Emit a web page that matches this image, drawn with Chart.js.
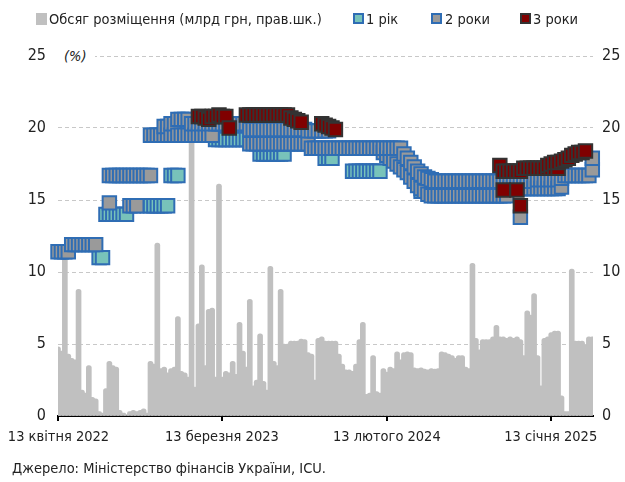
<!DOCTYPE html>
<html><head><meta charset="utf-8">
<script src="https://cdn.jsdelivr.net/npm/chart.js@4.4.1/dist/chart.umd.min.js"></script>
<style>
html,body{margin:0;padding:0;background:#fff;}
#wrap{position:relative;width:625px;height:482px;overflow:hidden;color:#222;}
canvas{position:absolute;left:0;top:0;}
.t{position:absolute;line-height:18px;white-space:nowrap;}
.bx{position:absolute;top:13px;width:11px;height:11px;box-sizing:border-box;}
</style></head><body>
<div id="wrap">
<canvas id="c" width="625" height="482"></canvas>
<div class="bx" style="left:36px;background:#c0c0c0;height:12px;"></div>
<div class="t" id="lg0" style="left:49px;top:10px;">Обсяг розміщення (млрд грн, прав.шк.)</div>
<div class="bx" style="left:353px;background:#78c3ba;border:2px solid #2f6db4;"></div>
<div class="t" style="left:366px;top:10px;">1 рік</div>
<div class="bx" style="left:431px;background:#9a9a9a;border:2px solid #2f6db4;"></div>
<div class="t" style="left:445px;top:10px;">2 роки</div>
<div class="bx" style="left:520px;background:#800000;border:2px solid #333;"></div>
<div class="t" style="left:533px;top:10px;">3 роки</div>
<div class="t" style="left:58px;top:47px;padding:0 8px 0 6px;background:#fff;font-style:italic;">(%)</div>
<div class="t" style="left:12px;top:459px;">Джерело: Міністерство фінансів України, ICU.</div>
</div>
<script>
// week 0 = auction of 12 April 2022; x values below are weeks since then
const firstAuction = '2022-04-12';
const tickDates = ['2022-04-13','2023-03-13','2024-02-13','2025-01-13'];
const tickLabels = ['13 квітня 2022','13 березня 2023','13 лютого 2024','13 січня 2025'];

// weekly placement volume, UAH bn (right axis), weeks 0..156
const volume = [
4.8,4.5,11.0,4.3,4.0,3.9,8.8,1.8,1.6,3.5,
1.3,1.2,0.3,0.2,1.9,3.8,3.5,3.4,0.4,0.2,
0.1,0.3,0.4,0.3,0.4,0.5,0.2,3.8,3.6,12.0,
3.3,3.4,3.0,3.3,3.4,6.9,3.1,3.0,2.7,19.5,
2.0,6.4,10.5,3.5,7.4,7.5,2.7,16.1,2.7,3.1,
3.0,3.8,2.9,6.5,4.5,3.4,8.1,2.1,2.5,5.7,
2.4,1.8,10.4,3.8,3.5,8.8,5.0,5.0,5.2,5.2,
5.2,5.35,5.3,4.4,4.3,2.5,5.4,5.5,5.2,5.2,
5.2,5.2,4.3,3.6,3.2,3.2,3.1,3.6,5.3,6.5,
1.5,1.6,4.2,1.7,1.6,3.3,3.05,3.4,3.3,4.45,
3.9,4.4,4.45,4.4,3.35,3.3,3.35,3.25,3.2,3.3,
3.25,3.3,4.45,4.4,4.3,4.2,4.0,4.2,4.2,3.4,
3.3,10.6,5.4,4.6,5.3,5.3,5.3,5.5,6.3,5.5,
5.5,5.4,5.5,5.4,5.5,5.3,4.2,7.3,7.0,8.5,
4.2,2.1,5.4,5.5,5.8,5.9,5.9,1.4,0.3,0.3,
10.2,5.2,5.2,5.2,4.9,5.5,5.5
];

// [week, yield %]
const oneYear = [
[12,11.0],[13,11.0],
[14,14.0],[15,14.0],[16,14.0],[17,14.0],[18,14.0],[19,14.0],[20,14.0],
[26,14.6],[27,14.6],[28,14.6],[29,14.6],[30,14.6],[31,14.6],[32,14.6],
[33,16.7],[34,16.7],[35,16.7],
[46,19.2],[47,19.2],[48,19.2],[49,19.2],[50,19.2],[51,19.2],[52,19.2],[53,19.2],[54,19.2],[55,19.2],
[59,18.2],[60,18.2],[61,18.2],[62,18.2],[63,18.2],[64,18.2],[65,18.2],[66,18.2],
[78,17.9],[79,17.9],[80,17.9],
[86,17.0],[87,17.0],[88,17.0],[89,17.0],[90,17.0],[91,17.0],[92,17.0],[93,17.0],[94,17.0],
[106,15.6],[107,15.6],[108,15.6],[109,15.6],[110,15.6],[111,15.6]
];

const twoYears = [
[0,11.4],[1,11.4],[2,11.4],[3,11.4],
[4,11.9],[5,11.9],[6,11.9],[7,11.9],[8,11.9],[9,11.9],[10,11.9],[11,11.9],
[15,14.8],[15,16.7],[16,16.7],[17,16.7],[18,16.7],[19,16.7],[20,16.7],
[21,14.6],[21,16.7],[22,14.6],[22,16.7],[23,14.6],[23,16.7],
[24,16.7],[25,16.7],[26,16.7],[27,16.7],
[27,19.5],[28,19.5],[29,19.5],[30,19.5],
[31,19.5],[31,20.1],[32,19.5],[32,20.1],
[33,19.5],[33,20.3],[34,19.5],[34,20.3],
[35,19.5],[35,20.6],[36,19.5],[36,20.6],[37,19.5],[37,20.6],[38,19.5],[38,20.6],
[39,19.5],[39,20.3],[40,19.5],[40,20.3],[41,19.5],[41,20.3],[42,19.5],[42,20.3],
[43,19.5],[43,20.3],[44,19.5],[44,20.3],[45,19.5],[45,20.3],
[46,20.3],[47,20.3],[48,20.3],[49,20.3],[50,20.3],[51,20.3],[52,20.3],[53,20.3],[54,20.3],[55,20.3],
[56,18.9],[56,19.9],[57,18.9],[57,19.9],[58,18.9],[58,19.9],[59,18.9],[59,19.9],
[60,18.9],[60,19.9],[61,18.9],[61,19.9],[62,18.9],[62,19.9],[63,18.9],[63,19.9],
[64,18.9],[64,19.9],[65,18.9],[65,19.9],[66,18.9],[66,19.9],[67,18.9],[67,19.9],
[68,18.9],[68,19.9],[69,18.9],[69,19.9],[70,18.9],[70,19.9],[71,18.9],[71,19.9],
[72,18.9],[72,19.9],[73,18.9],[73,19.8],
[74,18.6],[74,19.8],[75,18.6],[75,19.8],[76,18.6],[76,19.8],[77,18.6],[77,19.8],
[78,18.6],[78,19.8],[79,18.6],[79,19.8],
[80,18.6],[81,18.6],[82,18.6],[83,18.6],[84,18.6],[85,18.6],[86,18.6],[87,18.6],
[88,18.6],[89,18.6],[90,18.6],[91,18.6],[92,18.6],[93,18.6],[94,18.6],
[95,18.3],[95,18.6],[96,18.1],[96,18.6],[97,17.9],[97,18.6],[98,17.7],[98,18.6],
[99,17.5],[99,18.6],[100,17.3],[100,18.6],
[101,17.1],[101,18.2],[102,16.9],[102,17.9],[103,16.6],[103,17.6],[104,16.3],[104,17.3],
[105,16.0],[105,17.0],[106,15.8],[106,16.8],[107,15.6],[107,16.6],[108,15.4],[108,16.5],
[109,15.3],[109,16.4],[110,15.3],[110,16.3],[111,15.3],[111,16.3],[112,15.3],[112,16.3],
[113,15.3],[113,16.3],[114,15.3],[114,16.3],[115,15.3],[115,16.3],[116,15.3],[116,16.3],
[117,15.3],[117,16.3],[118,15.3],[118,16.3],[119,15.3],[119,16.3],[120,15.3],[120,16.3],
[121,15.3],[121,16.3],[122,15.3],[122,16.3],[123,15.3],[123,16.3],[124,15.3],[124,16.3],
[125,15.3],[125,16.3],[126,15.3],[126,16.3],[127,15.3],[127,16.3],[128,15.3],[128,16.3],
[129,15.3],[129,16.3],[130,15.3],[130,16.3],[131,15.3],[131,16.3],
[132,15.8],[132,16.3],[133,15.8],[133,16.3],[134,15.8],[134,16.3],[135,13.8],[135,15.8],[135,16.3],
[136,15.8],[136,16.3],[137,15.8],[137,16.3],[138,15.8],[138,16.3],[139,15.8],[139,16.3],
[140,15.8],[140,16.4],[141,15.8],[141,16.4],[142,15.8],[142,16.4],[143,15.8],[143,16.4],
[144,15.8],[144,16.4],[145,15.8],[145,16.4],[146,15.8],[146,16.4],[147,15.9],[147,16.5],
[148,16.7],[149,16.7],[150,16.7],[151,16.7],[152,16.7],[153,16.7],[154,16.7],[155,16.7],
[156,17.1],[156,17.9]
];

const threeYears = [
[41,20.8],[42,20.8],[43,20.7],[44,20.6],[45,20.8],[46,20.8],[47,20.9],[48,20.8],[49,20.8],
[50,20.0],
[55,20.9],[56,20.9],[57,20.9],[58,20.9],[59,20.9],[60,20.9],[61,20.9],[62,20.9],
[63,20.9],[64,20.9],[65,20.9],[66,20.9],[67,20.9],
[68,20.7],[69,20.6],[70,20.5],[71,20.4],
[77,20.3],[78,20.2],[79,20.1],[80,20.0],[81,19.9],
[129,17.4],[130,15.7],[130,17.0],[131,17.0],[132,17.0],[133,17.0],
[134,15.7],[134,17.0],[135,14.6],[135,17.0],
[136,17.2],[137,17.2],[138,17.2],[139,17.2],[140,17.2],[141,17.2],[142,17.2],
[143,17.2],[143,17.4],[144,17.2],[144,17.5],[145,17.2],[145,17.6],[146,17.2],[146,17.6],
[147,17.7],[148,17.8],[149,17.9],[150,18.1],[151,18.2],[152,18.3],[153,18.3],[154,18.4]
];

// pick a condensed font and size it so the legend text matches the original width (~272px)
const FONT = "'Liberation Sans Narrow','Arial Narrow','DejaVu Sans Condensed','Liberation Sans',sans-serif";
const mctx = document.createElement('canvas').getContext('2d');
mctx.font = "16px " + FONT;
const w16 = mctx.measureText(document.getElementById('lg0').textContent).width;
const FS = Math.round(16 * 272 / w16 * 10) / 10;
document.getElementById('wrap').style.fontFamily = FONT;
document.getElementById('wrap').style.fontSize = FS + 'px';

Chart.defaults.font.family = FONT;
Chart.defaults.font.size = FS;
Chart.defaults.color = '#222';
const yFont = {size: Math.round(FS * 1.1 * 10) / 10};

const weekOf = d => (Date.parse(d) - Date.parse(firstAuction)) / (7 * 86400000);
const tickPos = tickDates.map(weekOf);
const toXY = arr => arr.map(([w, r]) => ({x: w, y: r}));
const markers = (fill, border) => ({
  type: 'line', showLine: false, pointStyle: 'rect', pointRadius: 9.5, pointHoverRadius: 9.5,
  pointBackgroundColor: fill, pointBorderColor: border, pointBorderWidth: 2,
  clip: false, yAxisID: 'yL'
});

new Chart(document.getElementById('c'), {
  data: {
    datasets: [
      {type: 'bar', label: 'Обсяг розміщення (млрд грн, прав.шк.)',
       data: volume.map((v, i) => ({x: i, y: v})),
       backgroundColor: '#c0c0c0', barThickness: 5, borderRadius: 2.5, borderSkipped: 'start',
       yAxisID: 'yR', order: 4},
      {...markers('#78c3ba', '#2f6db4'), label: '1 рік', data: toXY(oneYear), order: 3},
      {...markers('#9a9a9a', '#2f6db4'), label: '2 роки', data: toXY(twoYears), order: 2},
      {...markers('#800000', '#333333'), label: '3 роки', data: toXY(threeYears), order: 1}
    ]
  },
  options: {
    responsive: false, animation: false, events: [],
    layout: {padding: {top: 56, bottom: 26, left: 0, right: 0}},
    plugins: {legend: {display: false}, tooltip: {enabled: false}},
    scales: {
      x: {
        type: 'linear', min: 0, max: 156.2, offset: false, bounds: 'data',
        afterBuildTicks: s => { s.ticks = tickPos.map(v => ({value: v})); },
        ticks: {autoSkip: false, maxRotation: 0, minRotation: 0, padding: 8,
                callback: (v, i) => tickLabels[i]},
        grid: {offset: false, drawOnChartArea: false, drawTicks: true, tickLength: 5, color: '#000', lineWidth: 2},
        border: {display: true, color: '#000', width: 2},
        afterFit: s => { s.height = 40; s.paddingLeft = 0; s.paddingRight = 0; }
      },
      yL: {
        position: 'left', min: 0, max: 25,
        ticks: {stepSize: 5, padding: 12, font: yFont},
        grid: {color: '#c8c8c8', drawTicks: false, lineWidth: 1},
        border: {display: false, dash: [4, 3]},
        afterFit: s => { s.width = 58; }
      },
      yR: {
        position: 'right', min: 0, max: 25,
        ticks: {stepSize: 5, padding: 9, font: yFont},
        grid: {drawOnChartArea: false, drawTicks: false},
        border: {display: false},
        afterFit: s => { s.width = 32; }
      }
    }
  }
});
</script>
</body></html>
